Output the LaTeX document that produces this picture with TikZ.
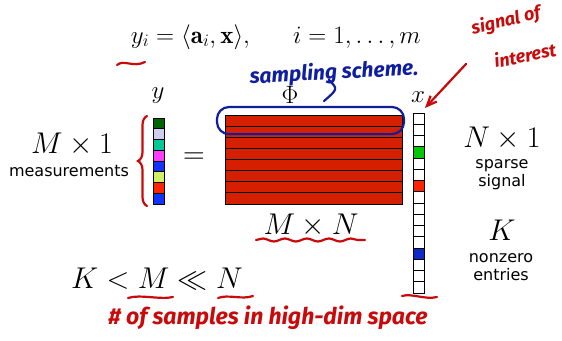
\RequirePackage{fix-cm}
\documentclass[tikz,border=0pt]{standalone}
\usepackage{fontspec}
\usepackage{amsmath,amssymb}
\usepackage{tikz}
\usetikzlibrary{arrows.meta,positioning,fit,decorations.pathreplacing,decorations.pathmorphing}
\newfontfamily\sansfont{DejaVu Sans}
\newfontfamily\handfont{Fira Sans}
\definecolor{matred}{RGB}{212,32,0}
\definecolor{inkred}{RGB}{200,10,10}
\definecolor{inkblue}{RGB}{15,30,160}
\definecolor{ydkgreen}{RGB}{0,100,0}
\definecolor{ylav}{RGB}{205,205,238}
\definecolor{yteal}{RGB}{0,200,150}
\definecolor{ymag}{RGB}{255,60,255}
\definecolor{yblue}{RGB}{20,50,255}
\definecolor{ylime}{RGB}{210,240,100}
\definecolor{yred}{RGB}{255,35,0}
\definecolor{xgreen}{RGB}{0,200,0}
\definecolor{xblue}{RGB}{15,40,200}

\begin{document}
\begin{tikzpicture}[
      x=1pt, y=-1pt,
      vcell/.style={draw, line width=0.8pt, inner sep=0pt, outer sep=0pt,
        minimum width=11pt},
      mrow/.style={draw, line width=0.8pt, fill=matred, inner sep=0pt, outer sep=0pt,
        minimum width=177pt, minimum height=11.125pt},
      big/.style={font=\fontsize{30}{36}\selectfont, inner sep=0pt, anchor=base},
      lab/.style={font=\fontsize{25}{30}\selectfont, inner sep=0pt, anchor=base},
      sub/.style={font=\fontsize{16}{18}\selectfont\sansfont, inner sep=0pt, anchor=base},
      ink/.style={draw=inkred, line width=2.2pt, line cap=round},
      bink/.style={draw=inkblue, line width=2.2pt, line cap=round},
      hand/.style={font=\fontsize{#1}{#1}\selectfont\handfont\itshape\bfseries, inner sep=0pt},
      arr/.style={ink, -{Straight Barb[length=3.5mm, width=3mm]}},
    ]
    \useasboundingbox (0,0) rectangle (562,340);

    % equation on top
    \node[font=\fontsize{25}{30}\selectfont, inner sep=0pt, anchor=base] (eq) at (276,43)
      {$y_i = \langle \mathbf{a}_i, \mathbf{x}\rangle, \quad\;\; i = 1, \ldots, m$};

    % measurement vector y
    \foreach \c [count=\i] in {ydkgreen,ylav,yteal,ymag,yblue,ylime,yred,yblue}
      \node[vcell, fill=\c, minimum height=10.75pt] (y\i) at (158.5,{118+10.75*\i-5.375}) {};
    % sensing matrix rows
    \foreach \i in {1,...,8}
      \node[mrow] (phi\i) at (313.5,{115+11.125*\i-5.5625}) {};
    % sparse vector x
    \foreach \c [count=\i] in {white,white,white,xgreen,white,white,yred,white,
                               white,white,white,white,xblue,white,white,white}
      \node[vcell, fill=\c, minimum height=11.25pt] (x\i) at (418.5,{113+11.25*\i-5.625}) {};

    \node[lab] (ylab) at (158,98) {$y$};
    \node[lab] (philab) at (290,103) {$\Phi$};
    \node[lab] (xlab) at (418,102) {$x$};
    \node[big] (eqsign) at (194,163) {$=$};

    \node[big] (m1) at (72,153) {$M \times 1$};
    \node[sub] (meas) at (69,176) {measurements};
    \node[big] (mxn) at (311,234) {$M \times N$};
    \node[big] (n1) at (502,147) {$N \times 1$};
    \node[sub] (sparse) at (502,168) {sparse};
    \node[sub] (signal) at ([yshift=-18pt]sparse.base) {signal};
    \node[big] (k) at (502,240) {$K$};
    \node[sub] (nonzero) at (501,262) {nonzero};
    \node[sub] (entries) at ([yshift=-18pt]nonzero.base) {entries};
    \node[big] (ineq) at (157,288) {$K < M \ll N$};

    % blue ink: sampling scheme
    \node[bink, draw, rounded corners=12pt, fit=(phi1), inner xsep=5pt, inner ysep=8pt,
      xshift=-3pt] (pick) {};
    \node[hand=21, text=inkblue, rotate=3] (samp) at (334,73) {sampling scheme.};
    \draw[bink] (329,80) .. controls (338,89) .. (324,101);

    % red ink
    \draw[ink] (117,65) .. controls (124,59) and (133,68) .. (145,62);
    \draw[ink, decorate, decoration={brace, amplitude=9pt}]
      ([xshift=-6pt,yshift=-2pt]y8.south west) -- ([xshift=-6pt,yshift=2pt]y1.north west);
    \node[hand=18, text=inkred, rotate=13] (sigof) at (506,21) {signal of};
    \node[hand=18, text=inkred, rotate=11] (inter) at (525,55) {interest};
    \coordinate (sigtail) at (466,64);
    \draw[arr] (sigtail) -- ([xshift=1pt,yshift=5pt]x1.north east);
    \draw[ink, decorate, decoration={snake, amplitude=1.5pt, segment length=22pt}]
      (256,240) -- (365,240);
    \draw[ink] (128,298) .. controls (140,294) and (160,300) .. (173,297);
    \draw[ink] (218,298) .. controls (228,294) and (242,300) .. (253,296);
    \draw[ink] (402,296) .. controls (412,293) and (425,300) .. (437,297);
    \node[hand=23, text=inkred] (samples) at (268,318) {\# of samples in high-dim space};
  \end{tikzpicture}
\end{document}
